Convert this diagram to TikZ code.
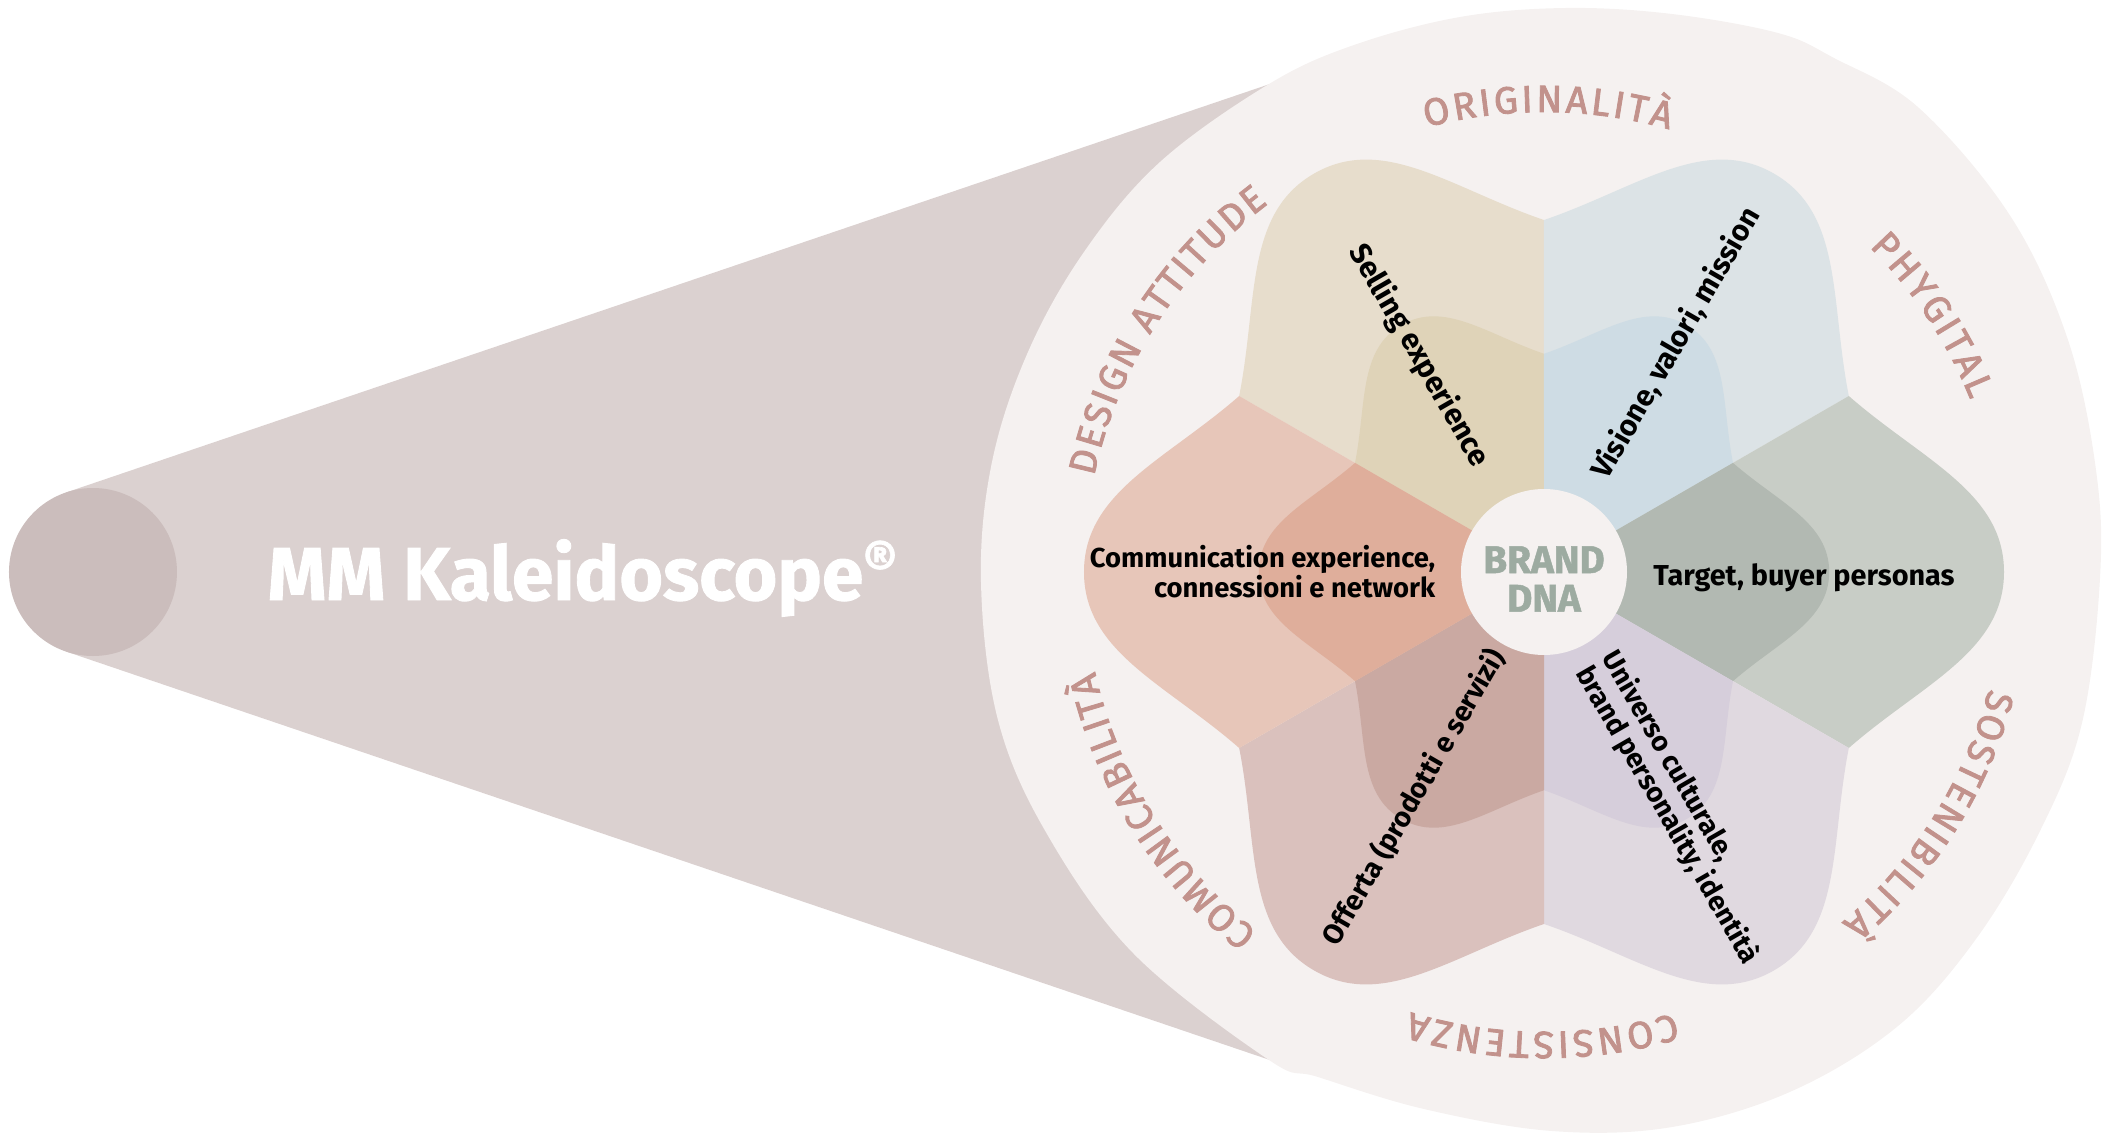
\documentclass[tikz,border=0pt]{standalone}
\usepackage{fontspec}
\setmainfont{Fira Sans}
\newfontfamily\heavyfam{Fira Sans}[FakeBold=1.2]
\newfontfamily\ringfam{Fira Sans}[FakeBold=2.2]
\usepackage{tikz}
\usetikzlibrary{decorations.text}

\definecolor{conefill}{HTML}{DBD1D0}
\definecolor{knobfill}{HTML}{CBBDBC}
\definecolor{blobfill}{HTML}{F5F1F0}
\definecolor{tanout}{HTML}{E7DDCC}
\definecolor{tanin}{HTML}{DFD3B8}
\definecolor{blueout}{HTML}{DCE3E6}
\definecolor{bluein}{HTML}{CEDCE4}
\definecolor{greenout}{HTML}{C8CDC6}
\definecolor{greenin}{HTML}{B2B9B2}
\definecolor{lilacout}{HTML}{E0D9E0}
\definecolor{lilacin}{HTML}{D6CEDB}
\definecolor{mauveout}{HTML}{DAC1BD}
\definecolor{mauvein}{HTML}{CAA9A2}
\definecolor{salmonout}{HTML}{E7C6B9}
\definecolor{salmonin}{HTML}{DFAE9B}
\definecolor{dnagreen}{HTML}{9DABA1}
\definecolor{ringrose}{HTML}{C2928C}

\newcommand{\petalpath}{(0,0) -- (304.8,-176) .. controls (378,-112) and (460,-80) .. (460,0) .. controls (460,80) and (378,112) .. (304.8,176) -- cycle}
\newcommand{\ringfont}{\ringfam\fontsize{10.8pt}{10.8pt}\selectfont}

\tikzstyle{petaltext} = [
    font=\fontsize{8pt}{8.6pt}\selectfont\bfseries,
    text=black,
    inner sep=0pt
]
\tikzstyle{inner} = [scale=0.62]
\tikzset{ringlabel/.style={
    decorate,
    decoration={text along path, text={|\ringfont|#1}, text align=fit to path, text color=ringrose}
}}

\begin{document}
\begin{tikzpicture}[x=0.1mm, y=0.1mm]

\useasboundingbox (-1544,-561) rectangle (565,572);

\fill[conefill] (-1478,79.5) -- (-275,487.7) -- (-275,-487.7) -- (-1478,-79.5) -- cycle;
\fill[knobfill] (-1451,0) circle (8.4mm);

\fill[blobfill] plot[smooth cycle, tension=0.6] coordinates {
    (-275,488) (-190,527) (-84,555) (22,564) (128,558) (234,539) (290,514)
    (375,464) (467,355) (524,232) (552,102) (556,-6) (538,-151) (496,-259)
    (432,-367) (354,-454) (248,-519) (128,-555) (8,-559) (-120,-537)
    (-226,-505) (-275,-488) (-410,-382) (-497,-262) (-546,-148) (-563,-10)
    (-552,110) (-516,220) (-460,320) (-384,410)
};

\fill[tanout, rotate=120] \petalpath;
\fill[blueout, rotate=60] \petalpath;
\fill[greenout, rotate=0] \petalpath;
\fill[lilacout, rotate=-60] \petalpath;
\fill[mauveout, rotate=-120] \petalpath;
\fill[salmonout, rotate=180] \petalpath;

\fill[tanin, rotate=120, inner] \petalpath;
\fill[bluein, rotate=60, inner] \petalpath;
\fill[greenin, rotate=0, inner] \petalpath;
\fill[lilacin, rotate=-60, inner] \petalpath;
\fill[mauvein, rotate=-120, inner] \petalpath;
\fill[salmonin, rotate=180, inner] \petalpath;

\fill[blobfill] (0,0) circle (8.3mm);

\node [
    font=\heavyfam\fontsize{11pt}{11pt}\selectfont\bfseries,
    text=dnagreen,
    align=center,
    inner sep=0pt
] (dna) at (0,-7) {BRAND\\DNA};

\node [
    font=\heavyfam\fontsize{21.3pt}{21.3pt}\selectfont\bfseries,
    text=white,
    anchor=base west,
    inner sep=0pt
] (title) at (-1277,-28) {MM Kaleidoscope\raisebox{5.5pt}{\fontsize{15pt}{15pt}\selectfont ®}};

\node [petaltext, font=\fontsize{8.5pt}{9pt}\selectfont\bfseries, rotate=-60] (selling) at (120:25mm) {Selling experience};
\node [petaltext, font=\fontsize{8.4pt}{9pt}\selectfont\bfseries, rotate=60] (vision) at (60:26.4mm) {Visione, valori, mission};
\node [petaltext, font=\fontsize{8.2pt}{9pt}\selectfont\bfseries] (target) at (260,-6) {Target, buyer personas};
\node [petaltext, font=\fontsize{7.8pt}{8.6pt}\selectfont\bfseries, align=right, anchor=east] (comm) at (-108,0.5) {Communication experience,\\connessioni e network};
\node [petaltext, rotate=60] (offer) at (240:26mm) {Offerta (prodotti e servizi)};
\node [petaltext, font=\fontsize{7.9pt}{8.6pt}\selectfont\bfseries, rotate=-60, align=left] (culture) at (-60:27.2mm) {Universo culturale,\\brand personality, identità};

\path[ringlabel=ORIGINALITÀ] (104.8:46mm) arc[start angle=104.8, end angle=74.2, radius=46mm];
\path[ringlabel=PHYGITAL] (45:46mm) arc[start angle=45, end angle=22, radius=46mm];
\path[ringlabel=SOSTENIBILITÀ] (-14.7:46mm) arc[start angle=-14.7, end angle=-49.7, radius=46mm];
\path[ringlabel=CONSISTENZA] (-73.55:46mm) arc[start angle=-73.55, end angle=-106.85, radius=46mm];
\path[ringlabel=COMUNICABILITÀ] (231.5:46mm) arc[start angle=231.5, end angle=192.5, radius=46mm];
\path[ringlabel=DESIGN ATTITUDE] (168:46mm) arc[start angle=168, end angle=126.8, radius=46mm];

\end{tikzpicture}
\end{document}
